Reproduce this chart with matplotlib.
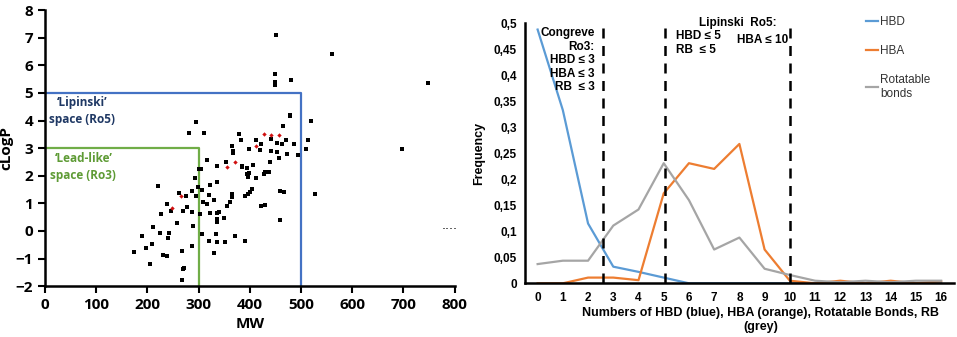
import matplotlib
matplotlib.use("Agg")
import matplotlib.pyplot as plt

# left panel: MW vs cLogP
mw_black = [452, 561, 748, 449, 449, 449, 481, 479, 479, 519, 465, 295, 281, 310,
            379, 383, 366, 367, 367, 398, 412, 422, 420, 442, 453, 470, 463, 486,
            441, 454, 458, 472, 494, 509, 513, 316, 336, 354, 385, 406, 439,
            301, 384, 394, 406, 220, 293, 304, 323, 336, 397, 395, 412, 399, 428,
            429, 438, 261, 275, 287, 295, 299, 307, 321, 308, 317, 330, 366, 365,
            362, 356, 391, 397, 400, 404, 459, 467, 528, 421, 429, 460, 239, 246,
            226, 278, 270, 288, 302, 322, 336, 340, 336, 336, 349, 211, 189, 290,
            257, 224, 243, 241, 307, 321, 334, 336, 351, 371, 390, 174, 197, 210,
            230, 239, 268, 287, 331, 206, 271, 270, 268, 697]
logp_black = [7.1, 6.4, 5.35, 5.7, 5.4, 5.3, 5.45, 4.2, 4.15, 4.0, 3.8, 3.95, 3.55, 3.55,
              3.5, 3.28, 3.08, 2.9, 2.82, 2.95, 3.28, 3.15, 2.92, 3.32, 3.2, 3.28, 3.15, 3.15,
              2.9, 2.85, 2.65, 2.78, 2.75, 2.95, 3.3, 2.58, 2.35, 2.5, 2.35, 2.4, 2.5,
              2.23, 2.33, 2.27, 2.39, 1.63, 1.9, 2.23, 1.66, 1.77, 1.96, 2.06, 1.9, 2.1, 2.08,
              2.15, 2.15, 1.36, 1.26, 1.45, 1.26, 1.58, 1.48, 1.31, 1.04, 0.97, 1.12, 1.32, 1.24,
              1.04, 0.91, 1.26, 1.34, 1.42, 1.53, 1.46, 1.42, 1.32, 0.9, 0.94, 0.41, 0.96, 0.73,
              0.6, 0.85, 0.72, 0.7, 0.61, 0.66, 0.66, 0.67, 0.42, 0.34, 0.48, 0.15, -0.18, 0.18,
              0.27, -0.09, -0.09, -0.26, -0.12, -0.38, -0.11, -0.4, -0.4, -0.18, -0.36, -0.75, -0.63, -0.48,
              -0.87, -0.91, -0.71, -0.55, -0.81, -1.21, -1.33, -1.38, -1.78, 2.97]
mw_red = [427, 442, 457, 413, 371, 356, 265, 249]
logp_red = [3.5, 3.48, 3.48, 3.08, 2.5, 2.33, 1.27, 0.82]

# right panel: frequency distributions
counts = list(range(17))
hbd = [0.488, 0.333, 0.115, 0.032, 0.022, 0.011, 0.0, 0, 0, 0, 0, 0, 0, 0, 0, 0, 0]
hba = [0.0, 0.0, 0.011, 0.011, 0.006, 0.173, 0.231, 0.22, 0.268, 0.065, 0.005,
       0.0, 0.005, 0.0, 0.005, 0.0, 0.004]
rotb = [0.037, 0.0435, 0.0435, 0.111, 0.142, 0.231, 0.160, 0.065, 0.088, 0.028,
        0.016, 0.005, 0.002, 0.005, 0.002, 0.005, 0.005]
cutoffs = [2.6, 5.05, 10.0]
freq_ticks = [0, 0.05, 0.1, 0.15, 0.2, 0.25, 0.3, 0.35, 0.4, 0.45, 0.5]
freq_labels = ['0', '0,05', '0,1', '0,15', '0,2', '0,25', '0,3', '0,35', '0,4', '0,45', '0,5']

fig = plt.figure(figsize=(9.57, 3.37), dpi=100)

# ---- left scatter ----
ax1 = fig.add_axes([0.047, 0.151, 0.428, 0.819])
lf = 'Open Sans'
ax1.scatter(mw_black, logp_black, s=11, marker='s', color='black', lw=0, zorder=3)
ax1.scatter(mw_red, logp_red, s=5, marker='D', color='#d01010', lw=0, zorder=3)
ax1.plot([0, 500, 500], [5, 5, -2], color='#4472C4', lw=1.6, zorder=2)
ax1.plot([0, 300, 300], [3, 3, -2], color='#70AD47', lw=1.6, zorder=2)
ax1.text(72, 4.35, '\u2018Lipinski\u2019\nspace (Ro5)', color='#1F3864', ha='center',
         va='center', fontsize=8.5, fontweight='bold', family=lf, linespacing=1.4)
ax1.text(75, 2.3, '\u2018Lead-like\u2019\nspace (Ro3)', color='#5E9B35', ha='center',
         va='center', fontsize=8.5, fontweight='bold', family=lf, linespacing=1.4)
ax1.text(790, 0.05, '\u00b7\u00b7\u00b7\u00b7', ha='center', va='center', fontsize=9)
ax1.set_xlim(0, 800)
ax1.set_ylim(-2, 8)
ax1.set_xticks(range(0, 801, 100))
ax1.set_yticks(range(-2, 9))
for sp in ['top', 'right']:
    ax1.spines[sp].set_visible(False)
for sp in ['left', 'bottom']:
    ax1.spines[sp].set_linewidth(1.8)
ax1.tick_params(width=1.5, length=5, labelsize=11)
for lab in ax1.get_xticklabels() + ax1.get_yticklabels():
    lab.set_fontweight('bold')
    lab.set_family(lf)
ax1.set_xlabel('MW', fontsize=11, fontweight='bold', family=lf)
ax1.set_ylabel('cLogP', fontsize=11, fontweight='bold', family=lf, labelpad=2)

# ---- right line chart ----
rf = 'Liberation Sans'
ax2 = fig.add_axes([0.5486, 0.1593, 0.448, 0.7715])
ax2.plot(counts, hbd, color='#5B9BD5', lw=1.6, label='HBD')
ax2.plot(counts, hba, color='#ED7D31', lw=1.6, label='HBA')
ax2.plot(counts, rotb, color='#A5A5A5', lw=1.6, label='Rotatable\nbonds')
for c in cutoffs:
    ax2.axvline(c, color='black', lw=1.8, ls=(0, (4, 3)), ymax=1.0)
ax2.text(2.27, 0.492, 'Congreve\nRo3:\nHBD \u2264 3\nHBA \u2264 3\nRB  \u2264 3', ha='right',
         va='top', fontsize=8.5, fontweight='bold', family=rf, linespacing=1.15)
ax2.text(7.95, 0.5, 'Lipinski  Ro5:', ha='center', va='center', fontsize=8.5,
         fontweight='bold', family=rf)
ax2.text(5.5, 0.487, 'HBD \u2264 5\nRB  \u2264 5', ha='left', va='top', fontsize=8.5,
         fontweight='bold', family=rf, linespacing=1.25)
ax2.text(9.93, 0.467, 'HBA \u2264 10', ha='right', va='center', fontsize=8.5,
         fontweight='bold', family=rf)
ax2.set_xlim(-0.5, 16.5)
ax2.set_ylim(0, 0.5)
ax2.set_xticks(counts)
ax2.set_yticks(freq_ticks)
ax2.set_yticklabels(freq_labels)
for sp in ['top', 'right']:
    ax2.spines[sp].set_visible(False)
for sp in ['left', 'bottom']:
    ax2.spines[sp].set_linewidth(1.8)
ax2.tick_params(length=0, labelsize=8.5, pad=6)
for lab in ax2.get_xticklabels() + ax2.get_yticklabels():
    lab.set_fontweight('bold')
    lab.set_family(rf)
ax2.set_ylabel('Frequency', fontsize=9, fontweight='bold', family=rf, labelpad=6)
ax2.set_xlabel('Numbers of HBD (blue), HBA (orange), Rotatable Bonds, RB\n(grey)',
               fontsize=9, fontweight='bold', family=rf, labelpad=3, linespacing=1.2)
ax2.xaxis.set_label_coords(0.55, -0.09, transform=ax2.transAxes)
ax2.xaxis.label.set_va('top')
leg = ax2.legend(loc='upper left', bbox_to_anchor=(0.77, 1.07), frameon=False,
                 handlelength=1.0, handletextpad=0.2, labelspacing=1.45,
                 prop={'family': rf, 'size': 8.5})
for t in leg.get_texts():
    t.set_color('#333333')

fig.savefig('out.png', dpi=100)
